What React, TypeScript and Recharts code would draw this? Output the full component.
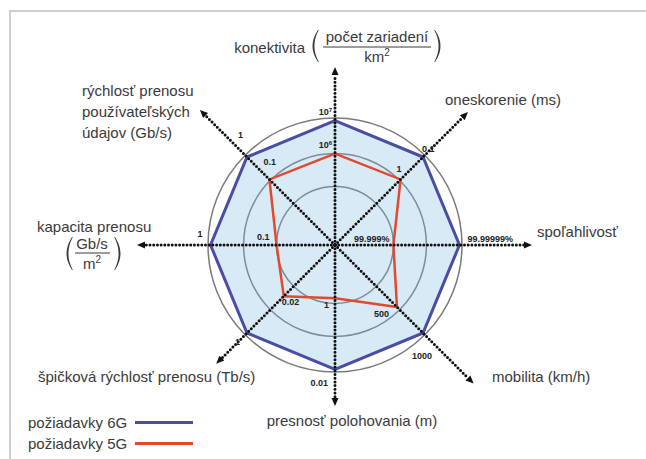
import { RadarChart, Radar, PolarGrid, PolarAngleAxis, PolarRadiusAxis, Legend } from 'recharts';

// ─── data ───
const axes = [
  'konektivita',
  'oneskorenie (ms)',
  'spoľahlivosť',
  'mobilita (km/h)',
  'presnosť polohovania (m)',
  'špičková rýchlosť prenosu (Tb/s)',
  'kapacita prenosu',
  'rýchlosť prenosu používateľských údajov (Gb/s)',
];
// share of the outer circle (0–100)
const req6G = [98, 98, 98, 98, 98, 98, 98, 98];
const req5G = [72, 73, 46, 69, 42, 57, 46, 73];
const ticks6G = ['10^7', '0.1', '99.99999%', '1000', '0.01', '1', '1', '1'];
const ticks5G = ['10^6', '1', '99.999%', '500', '1', '0.02', '0.1', '0.1'];
const gridLevels = [46, 72, 100];
const seriesNames = ['požiadavky 6G', 'požiadavky 5G'];

const data = axes.map((axis, i) => ({ axis, g6: req6G[i], g5: req5G[i] }));

// ─── layout ───
const CX = 335;
const CY = 245;
const R = 127;
const BLUE = '#4a4ea3';
const RED = '#e04a2f';
const TEXT = '#3a3a3a';
const FONT = '"Liberation Sans", Arial, sans-serif';
const axisLen = [178, 188, 197, 196, 161, 168, 198, 191];
// value label offsets from the vertex: [dx, dy, anchor]
const off6G: [number, number, string][] = [
  [-3, -6, 'end'], [-1, -5, 'start'], [8, -3, 'start'], [-11, 26, 'start'],
  [-7, 17, 'end'], [-12, 12, 'start'], [-13, -8, 'start'], [-9, -19, 'start'],
];
const off5G: [number, number, string][] = [
  [-3, -6, 'end'], [-4, -7, 'start'], [-4, -3, 'end'], [-8, 10, 'end'],
  [-6, 10, 'end'], [-2, 9, 'start'], [-7, -5, 'end'], [-6, -14, 'start'],
];

const txt = { fontFamily: FONT, fontSize: 15, fill: TEXT };

function ValueText({ x, y, label, anchor }: any) {
  const [base, sup] = label.split('^');
  return (
    <text x={x} y={y} textAnchor={anchor} fontFamily={FONT} fontSize={9} fontWeight={700} fill="#222">
      {base}
      {sup && (
        <tspan dy={-3} fontSize={6}>
          {sup}
        </tspan>
      )}
    </text>
  );
}

const makeDot = (labels: string[], offs: [number, number, string][]) => (p: any) => {
  const i = p.index;
  const [dx, dy, anchor] = offs[i];
  return <ValueText key={`v${i}`} x={p.cx + dx} y={p.cy + dy} label={labels[i]} anchor={anchor} />;
};

// thin tall bracket, x = left edge, top/bottom in px
function Paren({ x, top, bottom, right }: any) {
  const mid = (top + bottom) / 2;
  const d = right
    ? `M${x},${top} Q${x + 11},${mid} ${x},${bottom} L${x - 0.8},${bottom} Q${x + 8},${mid} ${x - 0.8},${top} Z`
    : `M${x + 9},${top} Q${x - 2},${mid} ${x + 9},${bottom} L${x + 9.8},${bottom} Q${x + 1},${mid} ${x + 9.8},${top} Z`;
  return <path d={d} fill={TEXT} />;
}

function AxisLabel({ index }: { index: number }) {
  const name = axes[index];
  switch (index) {
    case 0:
      return (
        <g>
          <text x={305} y={53} textAnchor="end" {...txt}>{name}</text>
          <Paren x={309} top={30} bottom={62} />
          <text x={377} y={42} textAnchor="middle" {...txt}>počet zariadení</text>
          <line x1={323} x2={431} y1={47} y2={47} stroke={TEXT} strokeWidth={1} />
          <text x={377} y={62} textAnchor="middle" {...txt}>
            km<tspan dy={-6} fontSize={10}>2</tspan>
          </text>
          <Paren x={435} top={30} bottom={62} right />
        </g>
      );
    case 1:
      return <text x={445} y={105} {...txt}>{name}</text>;
    case 2:
      return <text x={537} y={237} {...txt}>{name}</text>;
    case 3:
      return <text x={492} y={382} {...txt}>{name}</text>;
    case 4:
      return <text x={352} y={426} textAnchor="middle" {...txt}>{name}</text>;
    case 5:
      return <text x={38} y={382} {...txt}>{name}</text>;
    case 6:
      return (
        <g>
          <text x={37} y={232} {...txt}>{name}</text>
          <Paren x={63} top={237} bottom={270} />
          <text x={92} y={249} textAnchor="middle" {...txt}>Gb/s</text>
          <line x1={75} x2={110} y1={253} y2={253} stroke={TEXT} strokeWidth={1} />
          <text x={92} y={269} textAnchor="middle" {...txt}>
            m<tspan dy={-6} fontSize={10}>2</tspan>
          </text>
          <Paren x={115} top={237} bottom={270} right />
        </g>
      );
    default:
      return (
        <text x={82} y={96} {...txt}>
          <tspan x={82}>rýchlosť prenosu</tspan>
          <tspan x={82} dy={21}>používateľských</tspan>
          <tspan x={82} dy={21}>údajov (Gb/s)</tspan>
        </text>
      );
  }
}

function AxisTick(props: any) {
  const { x, y, payload } = props;
  const index = props.index ?? axes.indexOf(payload?.value);
  const cx = props.cx ?? CX;
  const cy = props.cy ?? CY;
  const dx = x - cx;
  const dy = y - cy;
  const d = Math.hypot(dx, dy) || 1;
  const ux = dx / d;
  const uy = dy / d;
  const len = axisLen[index];
  const tipX = cx + ux * len;
  const tipY = cy + uy * len;
  const bx = tipX - ux * 8;
  const by = tipY - uy * 8;
  const px = -uy * 3.5;
  const py = ux * 3.5;
  return (
    <g>
      <line
        x1={cx}
        y1={cy}
        x2={bx}
        y2={by}
        stroke="#111"
        strokeWidth={3}
        strokeDasharray="0 3.7"
        strokeLinecap="round"
      />
      <polygon points={`${tipX},${tipY} ${bx + px},${by + py} ${bx - px},${by - py}`} fill="#111" />
      <AxisLabel index={index} />
    </g>
  );
}

const legendColors: Record<string, string> = { [seriesNames[0]]: BLUE, [seriesNames[1]]: RED };

const renderLegend = (props: any) => {
  const items = (props.payload || [])
    .filter((p: any) => legendColors[p.value])
    .sort((a: any, b: any) => seriesNames.indexOf(a.value) - seriesNames.indexOf(b.value));
  return (
    <div style={{ fontFamily: FONT, fontSize: 15, color: TEXT, lineHeight: '21px' }}>
      {items.map((p: any) => (
        <div key={p.value} style={{ display: 'flex', alignItems: 'center', gap: 8 }}>
          <span>{p.value}</span>
          <span style={{ display: 'inline-block', width: 58, height: 3, background: legendColors[p.value] }} />
        </div>
      ))}
    </div>
  );
};

export default function App() {
  return (
    <div style={{ position: 'absolute', left: 0, top: 0, width: 646, height: 459, background: '#fff', overflow: 'hidden' }}>
      <div
        style={{
          position: 'absolute',
          left: 9,
          top: 10,
          width: 650,
          height: 470,
          borderTop: '2px solid #cfcfcf',
          borderLeft: '2px solid #cfcfcf',
        }}
      />
      <div style={{ position: 'absolute', left: 0, top: 0 }}>
        <RadarChart
          width={646}
          height={459}
          cx={CX}
          cy={CY}
          outerRadius={R}
          data={data}
          margin={{ top: 0, right: 0, bottom: 0, left: 0 }}
        >
          <PolarRadiusAxis domain={[0, 100]} tick={false} axisLine={false} />
          <PolarGrid
            gridType="circle"
            radialLines={false}
            polarRadius={gridLevels.map((v) => (R * v) / 100)}
            stroke="#7a7a7a"
            strokeWidth={1.5}
          />
          {/* translucent so the grid circles stay visible through the fill */}
          <Radar
            dataKey="g6"
            stroke="none"
            fill="#7db9e1"
            fillOpacity={0.3}
            legendType="none"
            dot={false}
            isAnimationActive={false}
          />
          <PolarAngleAxis dataKey="axis" tick={AxisTick} axisLine={false} tickLine={false} />
          <Radar
            name={seriesNames[0]}
            dataKey="g6"
            stroke={BLUE}
            strokeWidth={3}
            fill="none"
            fillOpacity={0}
            dot={makeDot(ticks6G, off6G)}
            isAnimationActive={false}
          />
          <Radar
            name={seriesNames[1]}
            dataKey="g5"
            stroke={RED}
            strokeWidth={2.5}
            fill="none"
            fillOpacity={0}
            dot={makeDot(ticks5G, off5G)}
            isAnimationActive={false}
          />
          <Legend
            content={renderLegend}
            wrapperStyle={{ position: 'absolute', left: 28, top: 412, width: 'auto', bottom: 'auto' }}
          />
        </RadarChart>
      </div>
    </div>
  );
}
